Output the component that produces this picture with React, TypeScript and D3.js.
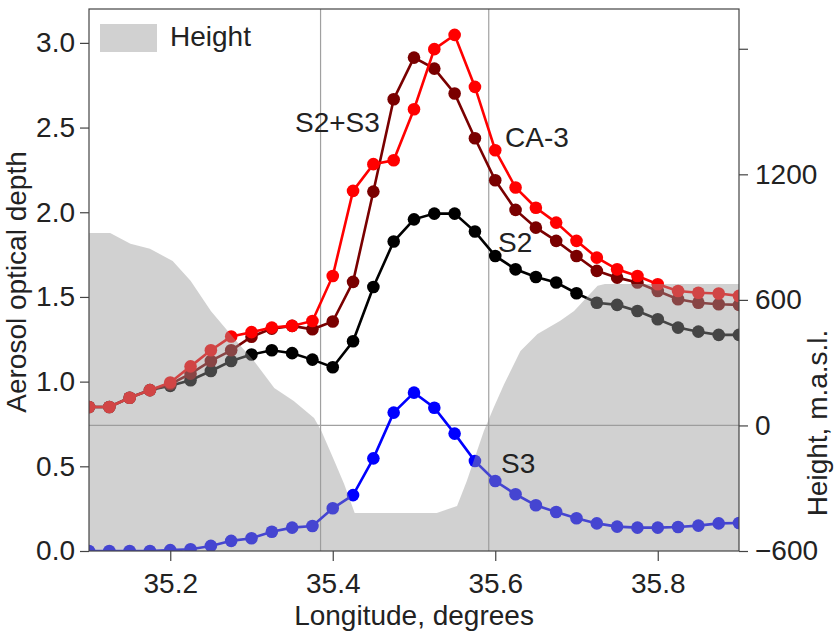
import React, { useEffect, useRef } from 'react';
import * as d3 from 'd3';

// sample longitudes (degrees)
const longitude = [
  35.1, 35.125, 35.15, 35.175, 35.2, 35.225, 35.25, 35.275, 35.3, 35.325, 35.35,
  35.375, 35.4, 35.425, 35.45, 35.475, 35.5, 35.525, 35.55, 35.575, 35.6, 35.625,
  35.65, 35.675, 35.7, 35.725, 35.75, 35.775, 35.8, 35.825, 35.85, 35.875, 35.9,
];

const ca3 = [
  0.85, 0.85, 0.905, 0.95, 0.995, 1.09, 1.185, 1.266, 1.292, 1.319, 1.329, 1.358,
  1.624, 2.126, 2.284, 2.307, 2.608, 2.963, 3.047, 2.74, 2.366, 2.146, 2.027, 1.939,
  1.831, 1.732, 1.663, 1.624, 1.575, 1.535, 1.525, 1.52, 1.506,
];

const s2s3 = [
  0.85, 0.85, 0.905, 0.95, 0.985, 1.047, 1.122, 1.185, 1.265, 1.313, 1.329, 1.309,
  1.355, 1.589, 2.122, 2.667, 2.913, 2.848, 2.701, 2.437, 2.189, 2.014, 1.909, 1.831,
  1.742, 1.654, 1.614, 1.585, 1.535, 1.486, 1.466, 1.457, 1.453,
];

const s2 = [
  0.85, 0.85, 0.905, 0.95, 0.975, 1.008, 1.063, 1.122, 1.16, 1.185, 1.168, 1.13,
  1.085, 1.238, 1.559, 1.827, 1.958, 1.992, 1.992, 1.886, 1.742, 1.663, 1.618, 1.585,
  1.522, 1.466, 1.453, 1.417, 1.368, 1.319, 1.295, 1.276, 1.276,
];

const s3 = [
  0, 0, 0, 0, 0.005, 0.01, 0.03, 0.06, 0.075, 0.114, 0.138, 0.148, 0.252, 0.33, 0.547,
  0.817, 0.935, 0.846, 0.693, 0.531, 0.413, 0.335, 0.27, 0.23, 0.193, 0.163, 0.144,
  0.138, 0.138, 0.142, 0.15, 0.163, 0.165,
];

// terrain profile
const heightLon = [
  35.1, 35.126, 35.151, 35.175, 35.203, 35.225, 35.25, 35.278, 35.303, 35.328, 35.352,
  35.377, 35.386, 35.402, 35.414, 35.427, 35.528, 35.553, 35.565, 35.586, 35.598,
  35.611, 35.631, 35.652, 35.68, 35.697, 35.726, 35.735, 35.9,
];
const heightVal = [
  920, 920, 868, 844, 786, 691, 547, 418, 308, 179, 117, 36, -26, -170, -280, -418,
  -418, -385, -265, -26, 84, 198, 356, 437, 500, 547, 667, 676, 676,
];

const xTicks = [35.2, 35.4, 35.6, 35.8];
const aodTicks = [0, 0.5, 1, 1.5, 2, 2.5, 3];
const heightTicks = [-600, 0, 600, 1200, 1800];
const heightLabels = ['\u2212600', '0', '600', '1200', ''];
const refLon = [35.385, 35.592];

const seriesNames = ['S3', 'S2', 'S2+S3', 'CA-3'];
const seriesColors = ['#0000ff', '#000000', '#7a0000', '#ff0000'];
const seriesValues = [s3, s2, s2s3, ca3];

export default function App() {
  const svgRef = useRef<SVGSVGElement | null>(null);

  useEffect(() => {
    const svg = d3.select(svgRef.current);
    svg.selectAll('*').remove();

    const width = 835;
    const height = 632;
    const margin = { top: 9, right: 96, bottom: 81, left: 89 };
    const font = '"Liberation Sans", Arial, Helvetica, sans-serif';

    const x = d3.scaleLinear().domain([35.1, 35.9]).range([margin.left, width - margin.right]);
    const y = d3.scaleLinear().domain([0, 3.2]).range([height - margin.bottom, margin.top]);
    const yH = d3.scaleLinear().domain([-600, 1990]).range([height - margin.bottom, margin.top]);

    const x0 = margin.left;
    const x1 = width - margin.right;
    const y0 = height - margin.bottom;
    const y1 = margin.top;

    svg.append('defs').append('clipPath').attr('id', 'plot')
      .append('rect').attr('x', x0).attr('y', y1).attr('width', x1 - x0).attr('height', y0 - y1);

    const plot = svg.append('g').attr('clip-path', 'url(#plot)');

    // reference lines
    refLon.forEach(lon => {
      plot.append('line')
        .attr('x1', x(lon)).attr('x2', x(lon)).attr('y1', y1).attr('y2', y0)
        .attr('stroke', '#a0a0a0').attr('stroke-width', 1.2);
    });
    plot.append('line')
      .attr('x1', x0).attr('x2', x1).attr('y1', yH(0)).attr('y2', yH(0))
      .attr('stroke', '#a0a0a0').attr('stroke-width', 1.2);

    // series
    seriesValues.forEach((vals, k) => {
      const pts = vals.map((v, i) => [longitude[i], v] as [number, number]);
      const line = d3.line<[number, number]>().x(d => x(d[0])).y(d => y(d[1]));
      plot.append('path')
        .attr('d', line(pts))
        .attr('fill', 'none')
        .attr('stroke', seriesColors[k])
        .attr('stroke-width', 2.6);
      plot.selectAll(null)
        .data(pts)
        .enter()
        .append('circle')
        .attr('cx', d => x(d[0]))
        .attr('cy', d => y(d[1]))
        .attr('r', 6.3)
        .attr('fill', seriesColors[k]);
    });

    // terrain on top, semi transparent
    const terrain = heightLon.map((lon, i) => [lon, heightVal[i]] as [number, number]);
    const area = d3.area<[number, number]>()
      .x(d => x(d[0]))
      .y0(y0)
      .y1(d => yH(d[1]));
    plot.append('path')
      .attr('d', area(terrain))
      .attr('fill', '#999999')
      .attr('fill-opacity', 0.45);

    // frame
    svg.append('rect')
      .attr('x', x0).attr('y', y1).attr('width', x1 - x0).attr('height', y0 - y1)
      .attr('fill', 'none').attr('stroke', '#444').attr('stroke-width', 1.2);

    // axes
    const styleAxis = (g: d3.Selection<SVGGElement, unknown, null, undefined>) => {
      g.select('.domain').remove();
      g.selectAll('line').attr('stroke', '#444').attr('stroke-width', 1.2);
      g.selectAll('text').attr('fill', '#222').style('font-size', '28px').style('font-family', font);
    };

    svg.append('g')
      .attr('transform', `translate(0,${y0})`)
      .call(d3.axisBottom(x).tickValues(xTicks).tickSize(10).tickPadding(12).tickFormat(d3.format('.1f')))
      .call(styleAxis);

    svg.append('g')
      .attr('transform', `translate(${x0},0)`)
      .call(d3.axisLeft(y).tickValues(aodTicks).tickSize(9).tickPadding(5).tickFormat(d3.format('.1f')))
      .call(styleAxis);

    svg.append('g')
      .attr('transform', `translate(${x1},0)`)
      .call(d3.axisRight(yH).tickValues(heightTicks).tickSize(9).tickPadding(7)
        .tickFormat((d, i) => heightLabels[i]))
      .call(styleAxis);

    // titles
    svg.append('text')
      .attr('x', (x0 + x1) / 2).attr('y', 625)
      .attr('text-anchor', 'middle')
      .attr('fill', '#222').style('font-size', '28px').style('font-family', font)
      .text('Longitude, degrees');

    svg.append('text')
      .attr('transform', 'translate(26,282) rotate(-90)')
      .attr('text-anchor', 'middle')
      .attr('fill', '#222').style('font-size', '28px').style('font-family', font)
      .text('Aerosol optical depth');

    svg.append('text')
      .attr('transform', 'translate(827,423) rotate(-90)')
      .attr('text-anchor', 'middle')
      .attr('fill', '#222').style('font-size', '28px').style('font-family', font)
      .text('Height, m.a.s.l.');

    // legend
    svg.append('rect')
      .attr('x', 100).attr('y', 24).attr('width', 57).attr('height', 28)
      .attr('fill', '#999999').attr('fill-opacity', 0.45);
    svg.append('text')
      .attr('x', 170).attr('y', 46)
      .attr('fill', '#222').style('font-size', '28px').style('font-family', font)
      .text('Height');

    // series labels
    const labelPos: [number, number][] = [[501, 473], [498, 252], [295, 132], [505, 147]];
    seriesNames.forEach((name, k) => {
      svg.append('text')
        .attr('x', labelPos[k][0]).attr('y', labelPos[k][1])
        .attr('fill', '#222').style('font-size', '28px').style('font-family', font)
        .text(name);
    });
  }, []);

  return (
    <svg
      ref={svgRef}
      width={835}
      height={632}
      style={{ position: 'absolute', left: 0, top: 0, background: '#fff' }}
    />
  );
}
